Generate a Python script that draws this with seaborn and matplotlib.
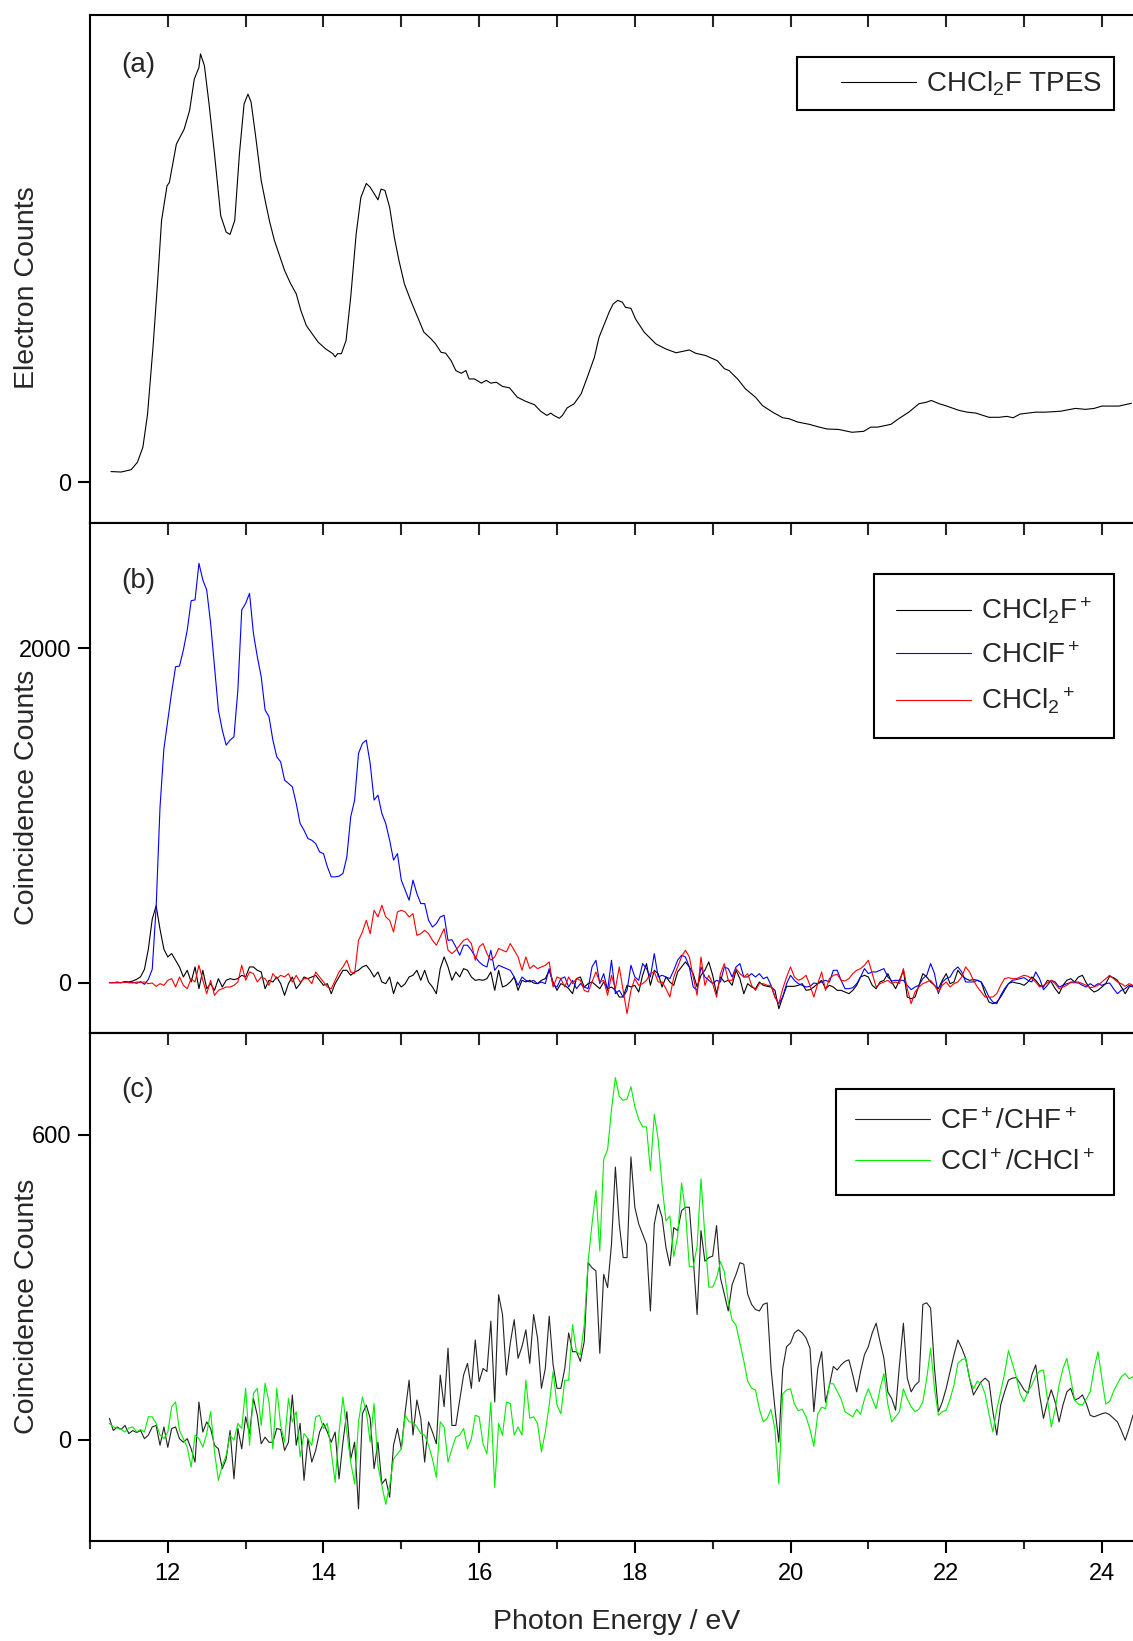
import numpy as np
import pandas as pd
import seaborn as sns
import matplotlib.pyplot as plt
from matplotlib.ticker import FixedLocator, MultipleLocator
from matplotlib.lines import Line2D
from matplotlib.legend_handler import HandlerLine2D

# ---- data ----
# (a) threshold photoelectron spectrum, irregular sampling
tpes_energy = [11.27, 11.40, 11.53, 11.61, 11.68, 11.74, 11.81, 11.87, 11.92, 11.99,
               12.02, 12.11, 12.21, 12.28, 12.34, 12.40, 12.42, 12.47, 12.53, 12.60,
               12.68, 12.75, 12.80, 12.86, 12.92, 12.98, 13.03, 13.07, 13.13, 13.20,
               13.26, 13.31, 13.37, 13.50, 13.58, 13.65, 13.71, 13.78, 13.84, 13.93,
               14.03, 14.12, 14.15, 14.18, 14.23, 14.29, 14.35, 14.42, 14.48, 14.55,
               14.60, 14.70, 14.74, 14.79, 14.85, 14.91, 14.97, 15.04, 15.12, 15.21,
               15.29, 15.38, 15.44, 15.51, 15.57, 15.64, 15.70, 15.77, 15.83, 15.87,
               15.94, 16.03, 16.09, 16.15, 16.22, 16.30, 16.39, 16.49, 16.60, 16.71,
               16.79, 16.87, 16.92, 16.96, 17.03, 17.07, 17.13, 17.22, 17.31, 17.39,
               17.48, 17.54, 17.60, 17.67, 17.72, 17.78, 17.84, 17.88, 17.95, 18.01,
               18.12, 18.27, 18.40, 18.53, 18.70, 18.78, 18.91, 19.06, 19.15, 19.21,
               19.32, 19.42, 19.55, 19.64, 19.77, 19.90, 19.98, 20.09, 20.24, 20.37,
               20.47, 20.62, 20.79, 20.94, 21.03, 21.12, 21.29, 21.39, 21.52, 21.65,
               21.74, 21.81, 21.91, 21.99, 22.16, 22.27, 22.38, 22.55, 22.68, 22.78,
               22.86, 22.95, 23.15, 23.28, 23.47, 23.66, 23.79, 23.90, 24.00, 24.22,
               24.38]
tpes_counts = [23, 22, 27, 43, 75, 146, 289, 431, 560, 634,
               641, 723, 755, 795, 862, 887, 916, 891, 809, 702,
               570, 535, 530, 560, 702, 809, 830, 813, 738, 645,
               595, 556, 517, 453, 424, 403, 367, 335, 321, 300,
               285, 275, 268, 275, 275, 303, 396, 531, 609, 639,
               631, 604, 627, 624, 588, 524, 474, 424, 389, 353,
               321, 307, 296, 278, 276, 260, 239, 233, 239, 221,
               221, 212, 218, 212, 214, 205, 202, 182, 173, 166,
               152, 143, 148, 143, 137, 143, 159, 168, 189, 225,
               267, 310, 335, 364, 381, 389, 385, 374, 372, 349,
               321, 296, 285, 277, 283, 276, 271, 260, 243, 239,
               221, 200, 182, 164, 150, 138, 136, 129, 124, 118,
               114, 113, 107, 109, 118, 118, 124, 136, 150, 168,
               171, 175, 168, 164, 154, 150, 148, 139, 139, 141,
               138, 146, 150, 150, 152, 158, 156, 158, 163, 163,
               169]

# (b) and (c) coincidence spectra, 0.05 eV steps from 11.25 to 24.40 eV
ion_energy = np.round(np.arange(11.25, 24.40 + 0.001, 0.05), 2)

parent = [0, 0, 2, 0, 6, 4, 10, 20, 35, 80, 200, 380, 460, 320, 200, 154, 174, 134, 94, 34,
          74, 4, 94, -36, 74, -36, -6, -46, 24, -26, 14, 24, 18, 24, 44, 34, 94, 94, 74, 64,
          -36, 14, 4, 34, -6, -76, -6, 34, -36, -6, 34, 24, 34, 44, 14, -16, -6, -66, -6, 34,
          74, 74, 44, 64, 74, 94, 104, 74, 34, 64, 4, -6, 34, -66, 4, -26, -6, 34, 44, 74,
          14, 74, 4, -26, -66, 84, 154, 94, 14, 64, 34, 84, 74, 34, 14, 18, 14, 24, 64, -46,
          74, -26, -16, 4, 34, -46, 14, 4, 14, -2, -6, 14, 24, 74, 4, -46, -6, -16, -36, -66,
          24, 34, -26, -6, 4, -16, -36, 4, -36, -26, -46, -86, -86, -16, -26, -16, -56, 44, 114, -16,
          74, 54, -26, 34, 4, -16, 64, 94, 124, 94, 54, -26, 44, 74, 124, 44, -66, 34, 4, 14,
          -16, 74, 24, -66, -6, -26, -36, 4, -16, -22, -26, -46, -156, -86, -22, -22, -22, -16, -6, -46,
          -42, -26, -6, 14, -36, -16, -26, -46, -46, -56, -66, -46, -16, 34, 44, 34, -16, -36, 4, 14,
          54, 4, -36, 14, 74, -86, -96, -86, -16, 54, 34, 4, -16, -36, 14, 54, -6, 4, 74, 44,
          24, 14, 18, 14, 4, -66, -116, -126, -116, -86, -46, -6, 4, -2, -6, -16, 4, 34, 14, -16,
          -26, 14, 4, -36, -66, -16, 14, 24, 4, 34, 44, -2, -36, -56, -46, -26, -6, 38, 30, 14,
          -26, -66, -26, -16]

chclf = [0, 0, 2, 0, 4, 0, 2, -4, 6, -10, 20, 80, 450, 1050, 1400, 1571, 1740, 1890, 1894, 1990,
         2110, 2285, 2290, 2509, 2409, 2349, 2150, 1890, 1631, 1511, 1421, 1451, 1471, 1750, 2230, 2269, 2329, 2090, 1950, 1830,
         1631, 1591, 1451, 1351, 1321, 1212, 1192, 1172, 1072, 952, 912, 862, 852, 832, 782, 772, 693, 633, 633, 637,
         653, 752, 992, 1092, 1371, 1431, 1451, 1311, 1092, 1122, 1012, 952, 852, 733, 772, 613, 553, 493, 613, 533,
         473, 473, 373, 333, 353, 393, 403, 253, 257, 214, 164, 224, 224, 194, 154, 124, 104, 94, 194, 74,
         104, 94, 84, 74, 34, -16, 34, 14, 4, 14, -6, 4, -6, 84, -16, -26, 24, 34, -26, 14,
         -36, -6, -26, -36, 94, 134, -6, 54, -46, 134, -66, -46, -86, -46, 104, 34, 14, 114, 84, 34,
         174, 34, 44, 34, 24, 74, 134, 164, 154, 94, -26, -46, 94, 34, 14, -6, 14, 4, 94, 84,
         34, 94, 114, 34, 34, 54, 34, 54, 24, 34, -16, -86, -126, -86, -6, 44, 14, -6, -16, -26,
         -22, -2, -6, 4, 14, 4, 74, 74, 14, -36, -36, -30, -6, 34, 84, 54, 64, 64, 74, 84,
         34, 10, 14, 14, 14, -16, -42, -26, -16, 24, 44, 114, 54, -66, 4, 24, 34, 74, 94, 64,
         4, 4, 4, 14, 4, -36, -86, -116, -126, -76, -36, -6, 14, 18, 24, 30, 14, 4, 64, 24,
         -42, -16, 14, 4, -26, -16, -6, 0, 0, -2, -16, -26, -6, -22, -6, -16, -6, -2, -36, -66,
         -46, -36, -16, -26]

chcl2 = [0, 0, -2, 0, 2, 0, -2, 4, 2, 4, -6, -2, -22, -6, -16, 14, 24, -26, 34, -16,
         -36, 24, 4, 104, 14, -66, 14, -76, -46, -36, -26, -26, -16, 4, 104, 14, 64, 54, 4, 34,
         24, -16, 54, 24, 44, 34, 54, 4, 44, 4, 24, 24, -6, 64, 34, 4, -26, -36, 14, 64,
         94, 134, 64, 54, 253, 303, 373, 293, 433, 393, 463, 393, 373, 303, 423, 433, 423, 393, 413, 283,
         293, 313, 293, 253, 224, 273, 323, 194, 174, 194, 224, 253, 263, 234, 134, 214, 234, 174, 134, 154,
         204, 194, 184, 234, 194, 154, 74, 154, 84, 104, 84, 94, 104, 124, -26, 34, 24, -26, 34, -6,
         24, 14, -46, -56, 4, 64, 4, 14, -76, 44, -36, 94, -46, -186, -46, 24, -16, -6, 14, 54,
         64, 4, 4, -36, -86, 34, 94, 154, 194, 154, 34, -76, 154, -16, 44, -6, -86, 54, 114, 14,
         14, 84, 54, 34, 54, -16, -46, -6, -6, -16, -16, -86, -126, -36, 34, 94, 34, 14, 24, 44,
         -16, -86, -6, 64, -46, 24, 44, 50, 14, 10, 24, 54, 74, 84, 104, 134, 54, -26, -6, 4,
         14, -6, 4, -6, 84, -36, -126, -56, -26, -6, 4, 14, -16, -56, -16, 4, -26, -6, 4, 34,
         94, 64, 14, -26, -56, -86, -86, -86, -66, -16, 24, 30, 24, 24, 34, 44, 38, 24, 4, -26,
         -16, -2, 14, -6, -36, -26, -16, 4, 4, 4, -6, -16, -30, -26, -16, 4, 24, 44, 24, 4,
         -6, -22, -6, -16]

cf_chf = [42, 18, 25, 20, 28, 12, 18, 14, 18, 2, 9, 25, 28, -11, 25, -15, 22, 25, 2, -5,
          2, -18, -44, 74, 15, 35, 22, -11, -18, -57, -38, 18, -77, 22, -18, 45, 12, 81, 48, -8,
          5, -5, -5, 22, 20, -21, -5, 88, -11, 32, -80, 2, -44, -21, 15, 32, 15, -5, 15, -77,
          -5, 55, -38, -5, -136, 51, 68, 42, -57, -5, -87, -77, -113, -11, 22, -18, 55, 117, 9, 78,
          42, -44, 35, 15, -8, 127, 65, 180, 28, 28, 78, 127, 150, 101, 196, 114, 140, 134, 233, 74,
          285, 246, 127, 190, 236, 160, 183, 216, 150, 246, 200, 101, 140, 243, 147, 101, 101, 140, 210, 173,
          173, 154, 193, 348, 338, 332, 170, 325, 299, 384, 536, 424, 358, 358, 556, 457, 424, 404, 384, 253,
          424, 463, 437, 378, 342, 417, 411, 450, 457, 457, 358, 246, 411, 351, 358, 361, 421, 318, 286, 253,
          305, 325, 348, 345, 286, 266, 256, 253, 266, 269, 140, 61, -5, 140, 183, 190, 210, 216, 210, 200,
          180, 55, 140, 173, 74, 107, 144, 137, 147, 154, 157, 127, 94, 134, 167, 183, 210, 229, 193, 160,
          94, 81, 58, 147, 229, 121, 94, 107, 114, 266, 269, 259, 140, 55, 74, 101, 134, 167, 196, 180,
          160, 121, 88, 101, 114, 121, 114, 55, 9, 68, 94, 117, 121, 122, 111, 98, 91, 127, 147, 88,
          42, 74, 98, 74, 35, 68, 94, 101, 78, 81, 88, 71, 48, 45, 48, 51, 53, 49, 42, 35,
          18, -1, 22, 48]

ccl_chcl = [32, 25, 23, 20, 15, 23, 25, 15, 20, 15, 45, 45, 32, 9, 2, 15, 65, 74, 18, 2,
            -15, -54, 9, 2, -15, 12, 55, -24, -80, -51, -31, 9, -1, 32, 22, 101, -11, 91, 101, 28,
            111, 74, -18, 101, 28, -5, 81, 35, 55, -34, 12, 2, -11, 45, 48, 22, 32, -24, -84, 15,
            84, 15, -44, -87, 35, 84, 55, -5, 71, -51, -90, -127, -90, -38, -28, -18, 48, 35, 35, 25,
            12, 9, -11, -38, -74, 35, 25, -44, -18, 5, 9, 22, -18, 2, 48, 45, -8, -28, 74, -94,
            32, 9, 74, 71, 9, 25, 9, 117, 42, 45, 32, -24, 15, 68, 134, 68, 51, 117, 117, 226,
            173, 167, 226, 351, 424, 490, 371, 552, 570, 649, 712, 675, 667, 670, 694, 655, 630, 615, 615, 529,
            640, 590, 500, 430, 440, 360, 400, 505, 450, 340, 340, 380, 513, 400, 300, 300, 318, 350, 330, 272,
            235, 225, 190, 155, 115, 101, 98, 60, 35, 42, 60, 20, -87, 90, 98, 100, 70, 57, 60, 45,
            20, -13, 50, 64, 61, 110, 110, 95, 80, 55, 50, 45, 60, 50, 80, 100, 80, 61, 100, 130,
            70, 35, 45, 55, 100, 80, 65, 55, 60, 74, 120, 180, 100, 48, 55, 58, 80, 107, 150, 157,
            160, 120, 100, 115, 110, 90, 50, 15, 60, 94, 130, 175, 150, 124, 90, 75, 95, 107, 125, 135,
            137, 80, 25, 60, 107, 140, 160, 120, 78, 70, 68, 80, 94, 140, 173, 120, 70, 75, 95, 110,
            124, 130, 120, 124]

tpes_df = pd.DataFrame({'energy': tpes_energy, 'counts': tpes_counts})
ion_df = pd.DataFrame({'energy': ion_energy, 'parent': parent, 'chclf': chclf, 'chcl2': chcl2,
                       'cf': cf_chf, 'ccl': ccl_chcl})

# ---- style ----
sns.set_theme(style='ticks')
plt.rcParams['font.family'] = ['Liberation Sans', 'DejaVu Sans']
plt.rcParams['mathtext.fontset'] = 'custom'
plt.rcParams['mathtext.rm'] = 'Liberation Sans'
plt.rcParams['mathtext.it'] = 'Liberation Sans:italic'
plt.rcParams['mathtext.bf'] = 'Liberation Sans:bold'
plt.rcParams['mathtext.default'] = 'rm'

fig = plt.figure(figsize=(11.33, 16.41), dpi=100)
left, width = 0.0794, 0.9206
ax_a = fig.add_axes([left, 0.68129, width, 0.30981])
ax_b = fig.add_axes([left, 0.37063, width, 0.31066])
ax_c = fig.add_axes([left, 0.06069, width, 0.30993])

lw = 0.8
sns.lineplot(data=tpes_df, x='energy', y='counts', ax=ax_a, color='black', lw=lw,
             estimator=None, label='CHCl$_2$F TPES')
sns.lineplot(data=ion_df, x='energy', y='parent', ax=ax_b, color='black', lw=lw,
             estimator=None, label='CHCl$_2$F$^+$')
sns.lineplot(data=ion_df, x='energy', y='chclf', ax=ax_b, color='#0000ff', lw=lw,
             estimator=None, label='CHClF$^+$')
sns.lineplot(data=ion_df, x='energy', y='chcl2', ax=ax_b, color='#ff0000', lw=lw,
             estimator=None, label='CHCl$_2$$^+$')
sns.lineplot(data=ion_df, x='energy', y='cf', ax=ax_c, color='#222222', lw=lw,
             estimator=None, label='CF$^+$/CHF$^+$')
sns.lineplot(data=ion_df, x='energy', y='ccl', ax=ax_c, color='#00ee00', lw=lw,
             estimator=None, label='CCl$^+$/CHCl$^+$')

ax_a.set_ylim(-87, 1000)
ax_b.set_ylim(-300, 2750)
ax_c.set_ylim(-200, 800)
ax_a.set_yticks([0])
ax_b.set_yticks([0, 2000])
ax_c.set_yticks([0, 600])

for ax in (ax_a, ax_b, ax_c):
    ax.set_xlim(11, 24.4)
    for side in ('left', 'top', 'bottom'):
        ax.spines[side].set_linewidth(1.5)
        ax.spines[side].set_color('black')
    ax.spines['right'].set_visible(False)
    ax.tick_params(axis='y', direction='out', length=8.6, width=1.5, labelsize=17,
                   pad=5, colors='black', right=False)
    ax.set_xlabel('')

# top ticks pointing inwards at every eV, no labels, on (a) and (b)
for ax in (ax_a, ax_b):
    ax.xaxis.set_major_locator(FixedLocator(list(range(12, 25))))
    ax.tick_params(axis='x', which='both', top=True, bottom=False, direction='in',
                   length=8.6, width=1.5, labelbottom=False, labeltop=False)

# (c): labelled outward ticks at the bottom, inward ticks on top
ax_c.xaxis.set_major_locator(MultipleLocator(2))
ax_c.xaxis.set_minor_locator(MultipleLocator(1))
ax_c.tick_params(axis='x', which='major', direction='out', length=8.6, width=1.5,
                 labelsize=17, pad=7, colors='black', top=False)
ax_c.tick_params(axis='x', which='minor', direction='out', length=5.8, width=1.5,
                 top=False)
top_c = ax_c.secondary_xaxis('top')
top_c.xaxis.set_major_locator(FixedLocator(list(range(12, 25))))
top_c.tick_params(axis='x', direction='in', length=8.6, width=1.5, labeltop=False)
top_c.spines['top'].set_linewidth(1.5)

ax_c.set_xlabel('Photon Energy / eV', fontsize=20.5)
ax_c.xaxis.set_label_coords(0.505, -0.133)

ax_a.set_ylabel('Electron Counts', fontsize=20.5)
ax_b.set_ylabel('Coincidence Counts', fontsize=20.5)
ax_c.set_ylabel('Coincidence Counts', fontsize=20.5)
for ax in (ax_a, ax_b, ax_c):
    ax.yaxis.set_label_coords(-0.048, 0.462)

ax_a.text(0.030, 0.901, '(a)', transform=ax_a.transAxes, fontsize=20, va='center', ha='left')
ax_b.text(0.030, 0.886, '(b)', transform=ax_b.transAxes, fontsize=20, va='center', ha='left')
ax_c.text(0.030, 0.887, '(c)', transform=ax_c.transAxes, fontsize=20, va='center', ha='left')

# anchor, border pad, row spacing, extra left gap before the legend line
legend_specs = [(ax_a, (0.982, 0.917), 0.45, 0.35, 1.15),
                (ax_b, (0.982, 0.900), 0.8, 0.6, 0.0),
                (ax_c, (0.982, 0.889), 0.7, 0.55, 0.0)]
for ax, anchor, pad, spacing, gap in legend_specs:
    leg = ax.legend(loc='upper right', bbox_to_anchor=anchor, borderaxespad=0,
                    fontsize=20, frameon=True, fancybox=False, framealpha=1,
                    handlelength=2.7 + gap, handletextpad=0.35, labelspacing=spacing,
                    borderpad=pad, handler_map={Line2D: HandlerLine2D(xpad=gap)})
    frame = leg.get_frame()
    frame.set_edgecolor('black')
    frame.set_linewidth(1.5)
    frame.set_facecolor('white')

fig.savefig('out.png', dpi=100, facecolor='white')
